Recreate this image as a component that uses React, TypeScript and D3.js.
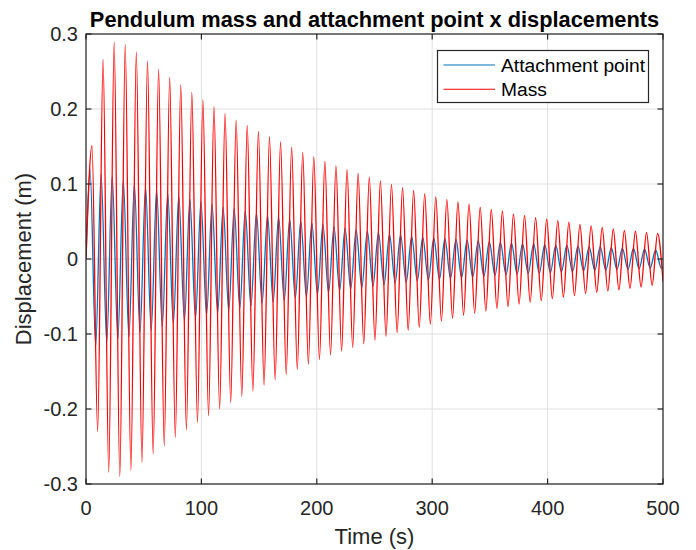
import React from 'react';
import * as d3 from 'd3';

// ---- data ----
const redPeakTimes = [5.2, 14.8, 24.4, 34.0, 43.6, 53.3, 62.9, 72.5, 82.1, 91.7, 101.3, 110.9, 120.5, 130.1, 139.7, 149.4, 159.0, 168.6, 178.2, 187.8, 197.4, 207.0, 216.6, 226.2, 235.8, 245.5, 255.1, 264.7, 274.3, 283.9, 293.5, 303.1, 312.7, 322.3, 331.9, 341.6, 351.2, 360.8, 370.4, 380.0, 389.6, 399.2, 408.8, 418.4, 428.0, 437.7, 447.3, 456.9, 466.5, 476.1, 485.7, 495.3];
const redPeakValues = [0.151, 0.266, 0.289, 0.286, 0.276, 0.264, 0.253, 0.242, 0.232, 0.222, 0.212, 0.203, 0.194, 0.185, 0.178, 0.170, 0.163, 0.156, 0.149, 0.142, 0.136, 0.130, 0.124, 0.119, 0.114, 0.109, 0.104, 0.0996, 0.095, 0.091, 0.087, 0.083, 0.0796, 0.076, 0.073, 0.069, 0.066, 0.064, 0.060, 0.058, 0.055, 0.053, 0.051, 0.049, 0.046, 0.044, 0.042, 0.040, 0.038, 0.037, 0.035, 0.034];
const redTroughTimes = [10.1, 19.7, 29.3, 38.9, 48.5, 58.2, 67.8, 77.4, 87.0, 96.6, 106.2, 115.8, 125.4, 135.0, 144.6, 154.3, 163.9, 173.5, 183.1, 192.7, 202.3, 211.9, 221.5, 231.1, 240.7, 250.4, 260.0, 269.6, 279.2, 288.8, 298.4, 308.0, 317.6, 327.2, 336.8, 346.5, 356.1, 365.7, 375.3, 384.9, 394.5, 404.1, 413.7, 423.3, 432.9, 442.6, 452.2, 461.8, 471.4, 481.0, 490.6];
const redTroughValues = [-0.230, -0.2845, -0.290, -0.282, -0.2715, -0.260, -0.249, -0.238, -0.228, -0.218, -0.209, -0.200, -0.191, -0.183, -0.176, -0.168, -0.161, -0.154, -0.147, -0.140, -0.1338, -0.128, -0.1227, -0.1178, -0.113, -0.108, -0.103, -0.098, -0.0947, -0.0907, -0.0867, -0.0827, -0.079, -0.075, -0.0724, -0.0693, -0.0662, -0.0636, -0.060, -0.0578, -0.0556, -0.0529, -0.0507, -0.0489, -0.046, -0.0444, -0.0427, -0.041, -0.039, -0.0373, -0.035];

const bluePeakTimes = [3.5, 13.1, 22.7, 32.3, 41.9, 51.6, 61.2, 70.8, 80.4, 90.0, 99.6, 109.2, 118.8, 128.4, 138.0, 147.7, 157.3, 166.9, 176.5, 186.1, 195.7, 205.3, 214.9, 224.5, 234.1, 243.8, 253.4, 263.0, 272.6, 282.2, 291.8, 301.4, 311.0, 320.6, 330.2, 339.9, 349.5, 359.1, 368.7, 378.3, 387.9, 397.5, 407.1, 416.7, 426.3, 436.0, 445.6, 455.2, 464.8, 474.4, 484.0, 493.6];
const bluePeakValues = [0.119, 0.113, 0.110, 0.105, 0.100, 0.096, 0.092, 0.088, 0.084, 0.080, 0.076, 0.073, 0.069, 0.067, 0.064, 0.061, 0.058, 0.056, 0.053, 0.051, 0.048, 0.046, 0.043, 0.041, 0.039, 0.037, 0.035, 0.033, 0.032, 0.030, 0.029, 0.028, 0.027, 0.026, 0.025, 0.024, 0.023, 0.022, 0.021, 0.020, 0.020, 0.019, 0.018, 0.018, 0.017, 0.016, 0.016, 0.015, 0.014, 0.014, 0.013, 0.012];
const blueTroughTimes = [8.4, 18.0, 27.6, 37.2, 46.8, 56.5, 66.1, 75.7, 85.3, 94.9, 104.5, 114.1, 123.7, 133.3, 142.9, 152.6, 162.2, 171.8, 181.4, 191.0, 200.6, 210.2, 219.8, 229.4, 239.0, 248.7, 258.3, 267.9, 277.5, 287.1, 296.7, 306.3, 315.9, 325.5, 335.1, 344.8, 354.4, 364.0, 373.6, 383.2, 392.8, 402.4, 412.0, 421.6, 431.2, 440.9, 450.5, 460.1, 469.7, 479.3, 488.9, 498.5];
const blueTroughValues = [-0.116, -0.111, -0.107, -0.104, -0.098, -0.095, -0.090, -0.086, -0.082, -0.079, -0.075, -0.072, -0.069, -0.066, -0.063, -0.059, -0.057, -0.055, -0.052, -0.050, -0.047, -0.045, -0.042, -0.040, -0.038, -0.036, -0.034, -0.032, -0.031, -0.029, -0.028, -0.027, -0.026, -0.025, -0.024, -0.023, -0.022, -0.021, -0.020, -0.019, -0.019, -0.018, -0.017, -0.017, -0.016, -0.015, -0.015, -0.014, -0.014, -0.013, -0.012, -0.012];

const endTimes = [0, 500];
const redEndValues = [0, -0.03];
const blueEndValues = [0, -0.011];

const seriesNames = ['Attachment point', 'Mass'];
const seriesColors = ['#0072BD', '#FF0000'];
const xTicks = [0, 100, 200, 300, 400, 500];
const yTicks = [-0.3, -0.2, -0.1, 0, 0.1, 0.2, 0.3];
const titleText = 'Pendulum mass and attachment point x displacements';
const xLabel = 'Time (s)';
const yLabel = 'Displacement (m)';

type Pt = [number, number];
function buildSeries(pt: number[], pv: number[], tt: number[], tv: number[], ev: number[]): Pt[] {
  const pts: Pt[] = [];
  endTimes.forEach((t, i) => pts.push([t, ev[i]]));
  pt.forEach((t, i) => pts.push([t, pv[i]]));
  tt.forEach((t, i) => pts.push([t, tv[i]]));
  pts.sort((a, b) => a[0] - b[0]);
  return pts;
}

const blueSeries = buildSeries(bluePeakTimes, bluePeakValues, blueTroughTimes, blueTroughValues, blueEndValues);
const redSeries = buildSeries(redPeakTimes, redPeakValues, redTroughTimes, redTroughValues, redEndValues);

const W = 696, H = 550;
const L = 86, R = 663, T = 34, B = 484;
const FONT = "'Liberation Sans', Arial, Helvetica, sans-serif";
const AX = '#262626';
const GRID = '#dfdfdf';

export default function App() {
  const x = d3.scaleLinear().domain([0, 500]).range([L, R]);
  const y = d3.scaleLinear().domain([-0.3, 0.3]).range([B, T]);
  const line = d3.line<Pt>().x(d => x(d[0])).y(d => y(d[1])).curve(d3.curveMonotoneX);
  const fmtY = (v: number) => (v === 0 ? '0' : v.toFixed(1));
  const fmtX = (v: number) => String(v);
  const tickLen = 5.5;

  const legX = 437.5, legY = 50.5, legW = 211, legH = 52;

  return (
    <svg width={W} height={H} style={{ position: 'absolute', left: 0, top: 0, background: '#fff' }} fontFamily={FONT}>
      <rect x={0} y={0} width={W} height={H} fill="#fff" />
      <defs>
        <clipPath id="plotclip">
          <rect x={L} y={T} width={R - L} height={B - T} />
        </clipPath>
      </defs>
      {/* grid */}
      {xTicks.map(t => (
        <line key={'gx' + t} x1={x(t)} x2={x(t)} y1={T} y2={B} stroke={GRID} strokeWidth={1} />
      ))}
      {yTicks.map(t => (
        <line key={'gy' + t} x1={L} x2={R} y1={y(t)} y2={y(t)} stroke={GRID} strokeWidth={1} />
      ))}
      {/* series */}
      <g clipPath="url(#plotclip)" fill="none" strokeLinejoin="round">
        <path d={line(blueSeries) || ''} stroke={seriesColors[0]} strokeWidth={1.3} />
        <path d={line(redSeries) || ''} stroke={seriesColors[1]} strokeWidth={1.3} />
      </g>
      {/* axes box and ticks */}
      <rect x={L} y={T} width={R - L} height={B - T} fill="none" stroke={AX} strokeWidth={1.2} />
      {xTicks.map(t => (
        <g key={'tx' + t}>
          <line x1={x(t)} x2={x(t)} y1={B} y2={B - tickLen} stroke={AX} strokeWidth={1.2} />
          <line x1={x(t)} x2={x(t)} y1={T} y2={T + tickLen} stroke={AX} strokeWidth={1.2} />
          <text x={x(t)} y={B + 31} textAnchor="middle" fontSize={20} fill={AX}>{fmtX(t)}</text>
        </g>
      ))}
      {yTicks.map(t => (
        <g key={'ty' + t}>
          <line x1={L} x2={L + tickLen} y1={y(t)} y2={y(t)} stroke={AX} strokeWidth={1.2} />
          <line x1={R} x2={R - tickLen} y1={y(t)} y2={y(t)} stroke={AX} strokeWidth={1.2} />
          <text x={L - 8} y={y(t)} dy="0.36em" textAnchor="end" fontSize={20} fill={AX}>{fmtY(t)}</text>
        </g>
      ))}
      {/* labels */}
      <text x={(L + R) / 2} y={544} textAnchor="middle" fontSize={22} fill={AX}>{xLabel}</text>
      <text transform={`translate(31,${(T + B) / 2}) rotate(-90)`} textAnchor="middle" fontSize={22} fill={AX}>{yLabel}</text>
      <text x={(L + R) / 2} y={26.5} textAnchor="middle" fontSize={21.8} fontWeight="bold" fill="#000">{titleText}</text>
      {/* legend */}
      <rect x={legX} y={legY} width={legW} height={legH} fill="#fff" stroke={AX} strokeWidth={1.2} />
      {seriesNames.map((n, i) => (
        <g key={n}>
          <line x1={443.5} x2={495} y1={65 + i * 24.3} y2={65 + i * 24.3} stroke={seriesColors[i]} strokeWidth={1.1} />
          <text x={501} y={65 + i * 24.3} dy="0.35em" fontSize={19.2} fill="#000">{n}</text>
        </g>
      ))}
    </svg>
  );
}
